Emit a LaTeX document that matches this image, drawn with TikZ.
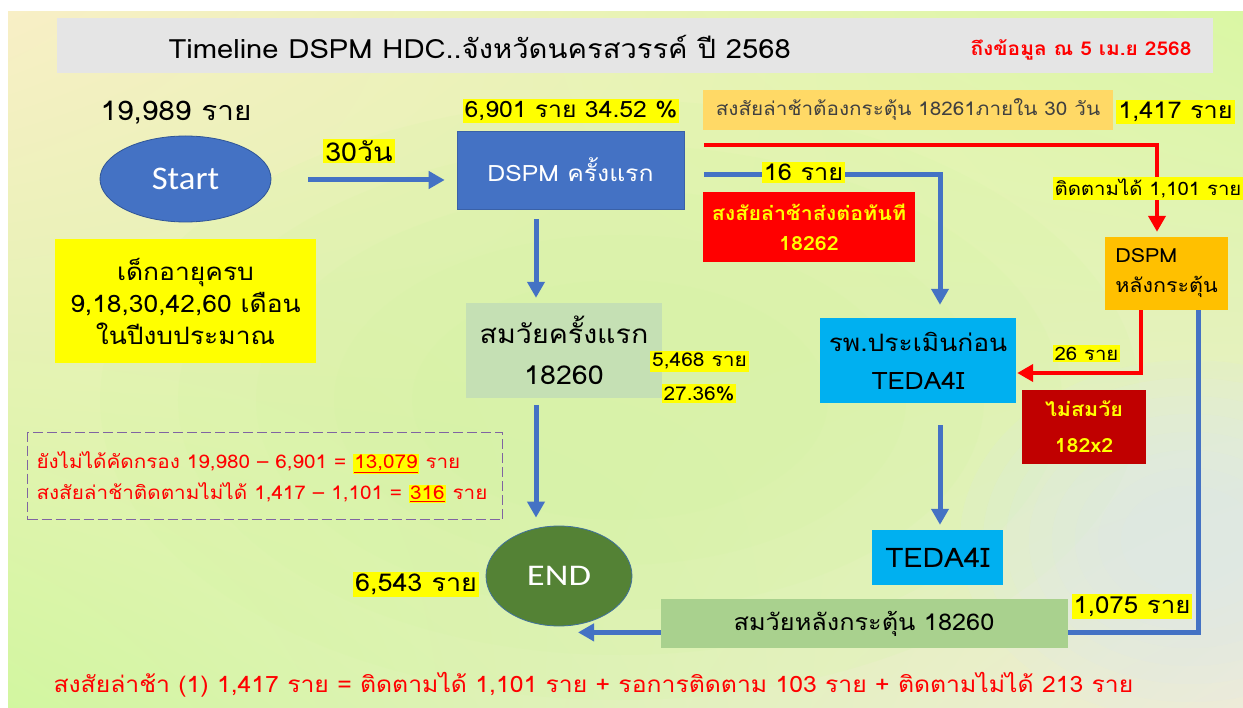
\documentclass[tikz,border=0pt]{standalone}
\usepackage{fontspec}
\setmainfont[Script=Thai,FakeStretch=1.1]{Loma}
\newfontfamily\calfont[FakeStretch=1.05]{Carlito}
\newfontfamily\endfont[FakeStretch=1.22]{Carlito}
\usetikzlibrary{arrows.meta,calc,shapes.geometric,shadings}
\definecolor{bgA}{HTML}{F8EFC6}
\definecolor{bgB}{HTML}{DAF7A4}
\definecolor{bgC}{HTML}{D2F6A0}
\definecolor{bgD}{HTML}{F0ECD6}
\definecolor{bgG}{HTML}{D2F8A0}
\definecolor{bgBlue}{HTML}{DCE8F2}
\definecolor{bannergray}{HTML}{E5E5E5}
\definecolor{mblue}{HTML}{4472C4}
\definecolor{mbluedark}{HTML}{2F5597}
\definecolor{sgreen}{HTML}{C5E0B4}
\definecolor{pgreen}{HTML}{A9D18E}
\definecolor{cyanB}{HTML}{00B0F0}
\definecolor{orangeC}{HTML}{FFC000}
\definecolor{lorange}{HTML}{FFD966}
\definecolor{darkredC}{HTML}{C00000}
\definecolor{endgreen}{HTML}{548235}
\definecolor{endborder}{HTML}{41719C}
\definecolor{dashpurple}{HTML}{8064A2}
\definecolor{hly}{HTML}{FFFF00}
\definecolor{graytext}{HTML}{404040}
\newcommand{\fs}[2]{\fontsize{#1}{#2}\selectfont}
\newcommand{\hlnum}[1]{{\setlength{\fboxsep}{1pt}\colorbox{hly}{\underline{#1}}}}
\tikzset{
  lbl/.style={fill=hly, inner sep=2pt, text=black},
  bluearrow/.style={draw=mblue, line width=5pt, -{Triangle[width=17pt,length=16pt]}},
  redarrow/.style={draw=red, line width=4pt, -{Triangle[width=17pt,length=16pt]}},
  boxnode/.style={inner sep=0pt, align=center},
}
\begin{document}
\begin{tikzpicture}[x=1pt,y=-1pt]
\useasboundingbox (0,0) rectangle (1243,708);
\shade[upper left=bgA, upper right=bgB, lower left=bgC, lower right=bgD] (8,12) rectangle (1243,708);
\begin{scope}
\clip (8,12) rectangle (1243,708);
\foreach \r in {1.0,0.85,0.7,0.55,0.4}
  \fill[bgG, opacity=0.15] (620,400) ellipse ({520*\r pt} and {300*\r pt});
\foreach \r in {1.0,0.9,0.8,0.7,0.6,0.5,0.4,0.3}
  \fill[bgBlue, opacity=0.12] (1190,540) ellipse ({230*\r pt} and {180*\r pt});
\end{scope}

% title banner
\node[fill=bannergray, minimum width=1156pt, minimum height=55pt, inner sep=0pt, anchor=north west] (banner) at (57,18) {};
\node[anchor=west, font=\fs{26.5}{30}] (title) at (165,47) {Timeline DSPM HDC..จังหวัดนครสวรรค์ ปี 2568};
\node[anchor=east, text=red, font=\bfseries\fs{19}{22}] (date) at (1195,50) {ถึงข้อมูล ณ 5 เม.ย 2568};

% start
\node[font=\fs{27}{30}] (startn) at (176,113) {19,989 ราย};
\node[ellipse, fill=mblue, draw=mbluedark, line width=0.8pt, minimum width=171pt, minimum height=86pt, text=white, font=\calfont\fs{33}{36}] (start) at (185.5,179) {Start};
\node[fill=hly, boxnode, minimum width=261pt, minimum height=124pt, font=\fs{24}{32}] (age) at (185.5,301) {เด็กอายุครบ\\9,18,30,42,60 เดือน\\ในปีงบประมาณ};

% DSPM first
\node[fill=mblue, draw=mblue!85!black, line width=0.6pt, boxnode, minimum width=227pt, minimum height=78pt, text=white, font=\fs{22.5}{26}] (dspm) at (570.5,170) {DSPM ครั้งแรก};
\node[lbl, font=\fs{22.5}{26}] (n6901) at (571,111) {6,901 ราย 34.52 \%};

\draw[bluearrow, shorten <=37pt, shorten >=12pt] ([yshift=-1pt]start.east) -- ([yshift=-1pt]start.east -| dspm.west);
\node[lbl, font=\fs{26}{30}] (d30) at (359,151) {30วัน};

% first on-age
\coordinate (ax) at (536,0);
\node[fill=sgreen, boxnode, minimum width=196pt, minimum height=95pt, font=\fs{26}{41}] (s1) at (564,350.5) {สมวัยครั้งแรก\\18260};
\draw[bluearrow, shorten <=10pt, shorten >=5pt] (dspm.south -| ax) -- (s1.north -| ax);
\node[lbl, font=\fs{19}{22}] (n5468) at (699.5,361.5) {5,468 ราย};
\node[lbl, font=\fs{19}{22}] (p2736) at (699,393.5) {27.36\%};

% END
\node[ellipse, fill=endgreen, draw=endborder, line width=0.8pt, minimum width=146pt, minimum height=100pt, text=white, font=\endfont\fs{30}{34}] (end) at (559,576) {END};
\draw[bluearrow, shorten <=7pt, shorten >=8pt] (s1.south -| ax) -- (end.north -| ax);
\node[lbl, font=\fs{24.5}{28}] (n6543) at (416,584.5) {6,543 ราย};

% dashed note
\node[draw=dashpurple, line width=1.2pt, dash pattern=on 10pt off 4pt, minimum width=475pt, minimum height=87pt, inner sep=0pt, anchor=north west] (note) at (27,432) {};
\node[anchor=west, text=red, font=\fs{18.8}{22}] (note1) at (33,463) {ยังไม่ได้คัดกรอง 19,980 – 6,901 = \hlnum{13,079} ราย};
\node[anchor=west, text=red, font=\fs{18.8}{22}] (note2) at (33,493) {สงสัยล่าช้าติดตามไม่ได้ 1,417 – 1,101 = \hlnum{316} ราย};

% suspected bar
\node[fill=lorange, boxnode, minimum width=410pt, minimum height=40pt, text=graytext, font=\fs{18.8}{22}] (sus) at (908,110) {สงสัยล่าช้าต้องกระตุ้น 18261ภายใน 30 วัน};
\node[lbl, font=\fs{23}{26}] (n1417) at (1175.5,112) {1,417 ราย};

% DSPM after stimulation
\node[fill=orangeC, inner sep=6pt, align=left, minimum width=123pt, minimum height=73pt, font=\fs{19.5}{30}] (post) at (1166.5,273.5) {DSPM\\หลังกระตุ้น};

% hospital
\node[fill=cyanB, boxnode, minimum width=196pt, minimum height=85pt, font=\fs{24}{38}] (rp) at (918,360.5) {รพ.ประเมินก่อน\\TEDA4I};

% red line to post
\coordinate (redstart) at (704,145);
\draw[redarrow, shorten >=5pt] (redstart) -| ([xshift=-9.5pt]post.north);
\node[lbl, font=\fs{18.5}{21}] (n1101) at (1148,188.5) {ติดตามได้ 1,101 ราย};

% blue line to hospital
\coordinate (bluestart) at (704,175);
\draw[bluearrow, shorten >=13pt] (bluestart) -| ([xshift=22pt]rp.north);
\node[lbl, font=\fs{23}{26}] (n16) at (803.5,172.5) {16 ราย};

% refer box
\node[fill=red, boxnode, minimum width=212pt, minimum height=70pt, text=hly, font=\bfseries\fs{19.5}{30}] (refer) at (809,227) {สงสัยล่าช้าส่งต่อทันที\\18262};

% red arrow post -> rp
\draw[redarrow, shorten >=1pt] ([xshift=-25.5pt]post.south) |- ([yshift=-12.5pt]rp.east);
\node[lbl, font=\fs{18.5}{21}] (n26) at (1086.5,353.5) {26 ราย};
\node[fill=darkredC, boxnode, minimum width=124pt, minimum height=74pt, text=hly, font=\bfseries\fs{19.5}{36}] (ns) at (1084,427) {ไม่สมวัย\\182x2};

% TEDA4I
\coordinate (tx) at (940,0);
\node[fill=cyanB, boxnode, minimum width=131pt, minimum height=55pt, font=\fs{27}{30}] (teda) at (937.5,557.5) {TEDA4I};
\draw[bluearrow, shorten <=22pt, shorten >=5pt] (rp.south -| tx) -- (teda.north -| tx);

% blue line from post to END
\draw[bluearrow] ([xshift=31.5pt]post.south) |- ([xshift=19pt,yshift=-6pt]end.south);
\node[fill=pgreen, boxnode, minimum width=407pt, minimum height=49pt, font=\fs{23}{26}] (s2) at (864,623.5) {สมวัยหลังกระตุ้น 18260};
\node[lbl, font=\fs{23.5}{27}] (n1075) at (1132,606.5) {1,075 ราย};

% bottom summary
\node[anchor=west, text=red, font=\fs{22.5}{26}] (summary) at (50,685) {สงสัยล่าช้า (1) 1,417 ราย = ติดตามได้ 1,101 ราย + รอการติดตาม 103 ราย + ติดตามไม่ได้ 213 ราย};
\end{tikzpicture}
\end{document}
